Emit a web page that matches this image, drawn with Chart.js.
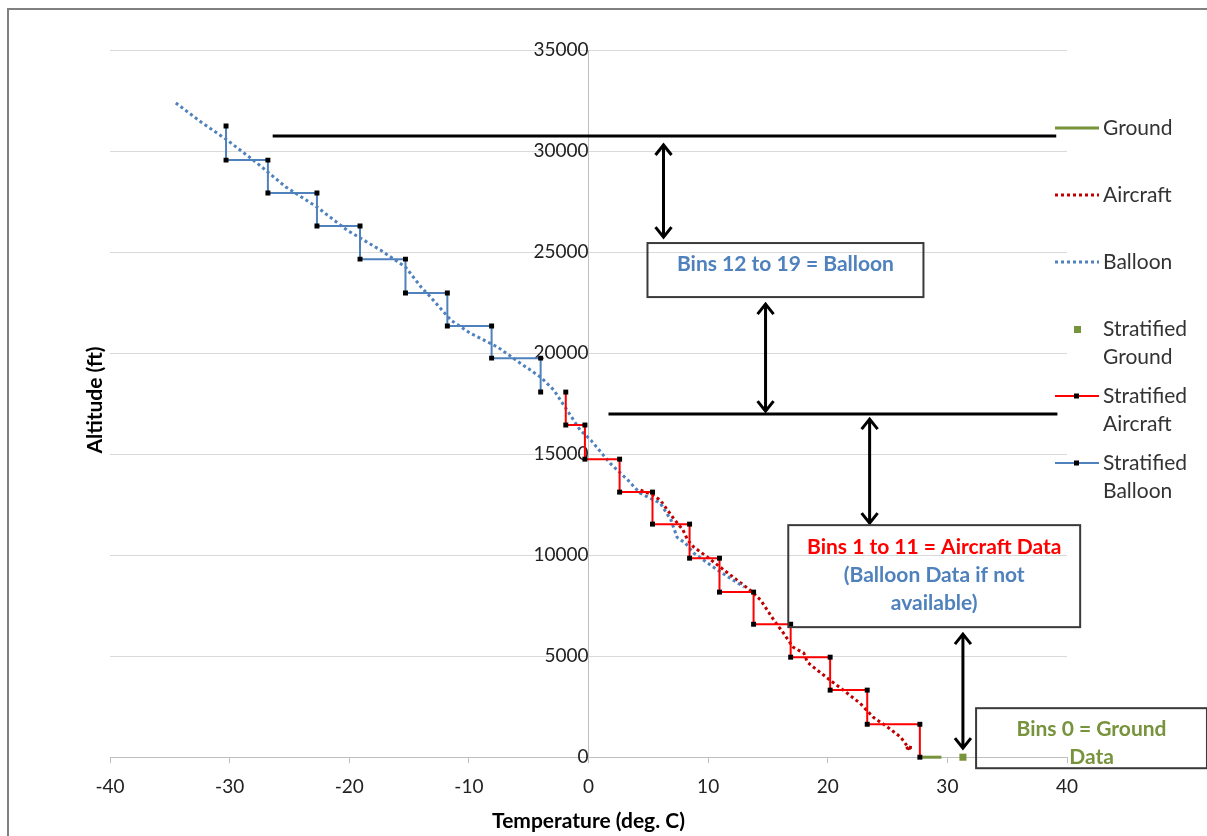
<!DOCTYPE html>
<html>
<head>
<meta charset="utf-8">
<script src="https://cdn.jsdelivr.net/npm/chart.js@4.4.1/dist/chart.umd.min.js"></script>
<style>
body{margin:0;background:#fff;}
#wrap{position:relative;width:1207px;height:836px;}
</style>
</head>
<body>
<div id="wrap"><canvas id="tempChart"></canvas></div>
<script>
// temperature (deg C) vs altitude (ft)
const groundTemp = [27.7, 29.5];
const groundAlt = [0, 0];

const aircraftTemp = [4.35, 5.4, 6.0, 6.6, 7.1, 7.9, 8.3, 8.8, 9.95, 11.0, 12.1, 13.5, 14.4, 15.5, 16.3, 17.1, 18.0, 18.3, 18.8, 20.2, 21.3, 22.7, 23.8, 25.0, 26.1, 26.7, 27.1, 26.5, 26.9];
const aircraftAlt = [13220, 12970, 12720, 12230, 11830, 11240, 10740, 10400, 9900, 9410, 8910, 8270, 7770, 6780, 6140, 5450, 5150, 4700, 4460, 3810, 3320, 2670, 1980, 1490, 990, 500, 480, 380, 560];

const balloonTemp = [-34.5, -32.4, -30.2, -27.7, -25.3, -22.7, -20.2, -17.4, -15.3, -14.0, -13.2, -11.5, -9.9, -7.6, -5.7, -4.0, -2.9, -1.8, -0.7, 0.2, 1.8, 3.3, 4.3, 6.0, 6.9, 7.4, 8.1, 8.8, 10.8, 13.0];
const balloonAlt = [32380, 31440, 30540, 29400, 28220, 27230, 26090, 25100, 24260, 23270, 22770, 21630, 20990, 20300, 19500, 18810, 18170, 17180, 16190, 15690, 14550, 13710, 13070, 12570, 11730, 10890, 10590, 10100, 9260, 8420];

// stratified bins: one temperature per bin, bin edges (ft) top to bottom
const stratGroundTemp = [31.3];
const stratGroundAlt = [0];

const stratAircraftTemp = [-1.9, -0.3, 2.6, 5.35, 8.45, 10.95, 13.8, 16.9, 20.2, 23.3, 27.7];
const stratAircraftEdges = [18070, 16440, 14750, 13120, 11535, 9850, 8170, 6580, 4950, 3320, 1630, 0];

const stratBalloonTemp = [-30.3, -26.8, -22.7, -19.1, -15.3, -11.8, -8.1, -4.0];
const stratBalloonEdges = [31240, 29550, 27920, 26290, 24650, 22970, 21340, 19750, 18070];

const tempRange = [-40, 40];
const altRange = [0, 35000];

function pairs(xs, ys){
  return xs.map((x, i) => ({x: x, y: ys[i]}));
}

function steps(temps, edges){
  const pts = [];
  temps.forEach((t, i) => {
    pts.push({x: t, y: edges[i]});
    pts.push({x: t, y: edges[i + 1]});
  });
  return pts;
}

const FONT = 'Lato, "Liberation Sans", sans-serif';
const BLUE = '#4f81bd';
const RED = '#ff0000';
const DRED = '#c00000';
const GREEN = '#77933c';

function arrow(ctx, x, y1, y2){
  ctx.beginPath();
  ctx.moveTo(x, y1 + 2); ctx.lineTo(x, y2 - 2);
  ctx.moveTo(x - 8, y1 + 12); ctx.lineTo(x, y1 + 2); ctx.lineTo(x + 8, y1 + 12);
  ctx.moveTo(x - 8, y2 - 12); ctx.lineTo(x, y2 - 2); ctx.lineTo(x + 8, y2 - 12);
  ctx.stroke();
}

const extras = {
  id: 'extras',
  beforeDraw(chart){
    const ctx = chart.ctx;
    ctx.save();
    ctx.fillStyle = '#fff';
    ctx.fillRect(0, 0, chart.width, chart.height);
    ctx.strokeStyle = '#808080';
    ctx.lineWidth = 2;
    ctx.strokeRect(8, 9, chart.width + 20, chart.height + 20);
    ctx.restore();
  },
  afterDatasetsDraw(chart){
    const ctx = chart.ctx;
    const xs = chart.scales.x, ys = chart.scales.y;
    const X = v => xs.getPixelForValue(v);
    const Y = v => ys.getPixelForValue(v);
    ctx.save();

    // axis titles
    ctx.fillStyle = '#000';
    ctx.font = 'bold 21px ' + FONT;
    ctx.textAlign = 'center';
    ctx.textBaseline = 'middle';
    ctx.fillText('Temperature (deg. C)', X(0), 821);
    ctx.save();
    ctx.translate(95, 400);
    ctx.rotate(-Math.PI / 2);
    ctx.fillText('Altitude (ft)', 0, 0);
    ctx.restore();

    // bin boundaries and arrows
    ctx.strokeStyle = '#000';
    ctx.lineWidth = 3;
    ctx.beginPath();
    ctx.moveTo(X(-26.4), Y(30740)); ctx.lineTo(X(39.1), Y(30740));
    ctx.moveTo(X(1.67), Y(16980)); ctx.lineTo(X(39.2), Y(16980));
    ctx.stroke();
    arrow(ctx, X(6.27), Y(30400), Y(25640));
    arrow(ctx, X(14.8), Y(22525), Y(17030));
    arrow(ctx, X(23.5), Y(16830), Y(11485));
    arrow(ctx, X(31.3), Y(6190), Y(350));

    // text boxes
    ctx.strokeStyle = '#3a3a3a';
    ctx.lineWidth = 2;
    const boxes = [
      {t0: 4.93, t1: 28.0, a0: 25446, a1: 22772, lines: [['Bins 12 to 19 = Balloon', BLUE, 264]]},
      {t0: 16.7, t1: 41.1, a0: 11485, a1: 6436, lines: [['Bins 1 to 11 = Aircraft Data', RED, 547], ['(Balloon Data if not', BLUE, 575], ['available)', BLUE, 603]]},
      {t0: 32.4, t1: 51.7, a0: 2426, a1: -545, lines: [['Bins 0 = Ground', GREEN, 729], ['Data', GREEN, 757]]}
    ];
    ctx.font = 'bold 21px ' + FONT;
    boxes.forEach(b => {
      const l = X(b.t0), r = X(b.t1), t = Y(b.a0), bt = Y(b.a1);
      ctx.strokeRect(l, t, r - l, bt - t);
      b.lines.forEach(([txt, col, y]) => {
        ctx.fillStyle = col;
        ctx.fillText(txt, (l + r) / 2, y);
      });
    });

    // legend
    ctx.textAlign = 'left';
    ctx.font = '21px ' + FONT;
    const lx0 = 1055, lx1 = 1099, tx = 1103;
    const legend = [
      {y: 128, lines: ['Ground'], kind: 'line', color: GREEN, w: 3},
      {y: 195, lines: ['Aircraft'], kind: 'dot', color: DRED, w: 3},
      {y: 262, lines: ['Balloon'], kind: 'dot', color: BLUE, w: 3},
      {y: 329, lines: ['Stratified', 'Ground'], kind: 'square', color: GREEN},
      {y: 396, lines: ['Stratified', 'Aircraft'], kind: 'strat', color: RED, w: 2},
      {y: 463, lines: ['Stratified', 'Balloon'], kind: 'strat', color: BLUE, w: 2}
    ];
    legend.forEach(it => {
      ctx.strokeStyle = it.color;
      ctx.fillStyle = it.color;
      if (it.kind === 'square') {
        ctx.fillRect(1074, it.y - 3, 7, 7);
      } else {
        ctx.lineWidth = it.w;
        ctx.setLineDash(it.kind === 'dot' ? [3, 3] : []);
        ctx.beginPath();
        ctx.moveTo(lx0, it.y); ctx.lineTo(lx1, it.y);
        ctx.stroke();
        ctx.setLineDash([]);
        if (it.kind === 'strat') {
          ctx.fillStyle = '#000';
          ctx.fillRect(1074, it.y - 2.5, 5, 5);
        }
      }
      ctx.fillStyle = '#333';
      it.lines.forEach((s, i) => ctx.fillText(s, tx, it.y + i * 28));
    });
    ctx.restore();
  }
};

new Chart(document.getElementById('tempChart'), {
  type: 'scatter',
  data: {
    datasets: [
      {label: 'Ground', data: pairs(groundTemp, groundAlt), showLine: true, borderColor: GREEN, borderWidth: 3, pointRadius: 0, clip: false, order: 6},
      {label: 'Aircraft', data: pairs(aircraftTemp, aircraftAlt), showLine: true, borderColor: DRED, borderWidth: 3, borderDash: [3, 3], pointRadius: 0, order: 5},
      {label: 'Balloon', data: pairs(balloonTemp, balloonAlt), showLine: true, borderColor: BLUE, borderWidth: 3, borderDash: [3, 3], pointRadius: 0, order: 4},
      {label: 'Stratified Ground', data: pairs(stratGroundTemp, stratGroundAlt), showLine: false, pointStyle: 'rect', pointRadius: 5, pointBackgroundColor: GREEN, pointBorderColor: GREEN, pointBorderWidth: 0, clip: false, order: 3},
      {label: 'Stratified Aircraft', data: steps(stratAircraftTemp, stratAircraftEdges), showLine: true, borderColor: RED, borderWidth: 2, pointStyle: 'rect', pointRadius: 3.5, pointBackgroundColor: '#000', pointBorderColor: '#000', pointBorderWidth: 0, clip: false, order: 2},
      {label: 'Stratified Balloon', data: steps(stratBalloonTemp, stratBalloonEdges), showLine: true, borderColor: BLUE, borderWidth: 2, pointStyle: 'rect', pointRadius: 3.5, pointBackgroundColor: '#000', pointBorderColor: '#000', pointBorderWidth: 0, order: 1}
    ]
  },
  options: {
    responsive: true,
    maintainAspectRatio: false,
    animation: false,
    layout: {padding: {left: 110, right: 140, top: 50, bottom: 26}},
    plugins: {legend: {display: false}, tooltip: {enabled: false}},
    scales: {
      x: {
        type: 'linear', position: 'bottom', min: tempRange[0], max: tempRange[1],
        grid: {color: 'transparent', tickColor: '#bfbfbf', tickLength: 6},
        border: {color: '#bfbfbf', width: 1},
        ticks: {stepSize: 10, padding: 12, color: '#222', font: {family: FONT, size: 19}}
      },
      y: {
        type: 'linear', position: {x: 0}, min: altRange[0], max: altRange[1],
        grid: {color: '#d9d9d9', drawTicks: false},
        border: {color: '#bfbfbf', width: 1},
        ticks: {stepSize: 5000, padding: 22, color: '#222', font: {family: FONT, size: 19}, callback: v => String(v)}
      }
    }
  },
  plugins: [extras]
});
</script>
</body>
</html>
